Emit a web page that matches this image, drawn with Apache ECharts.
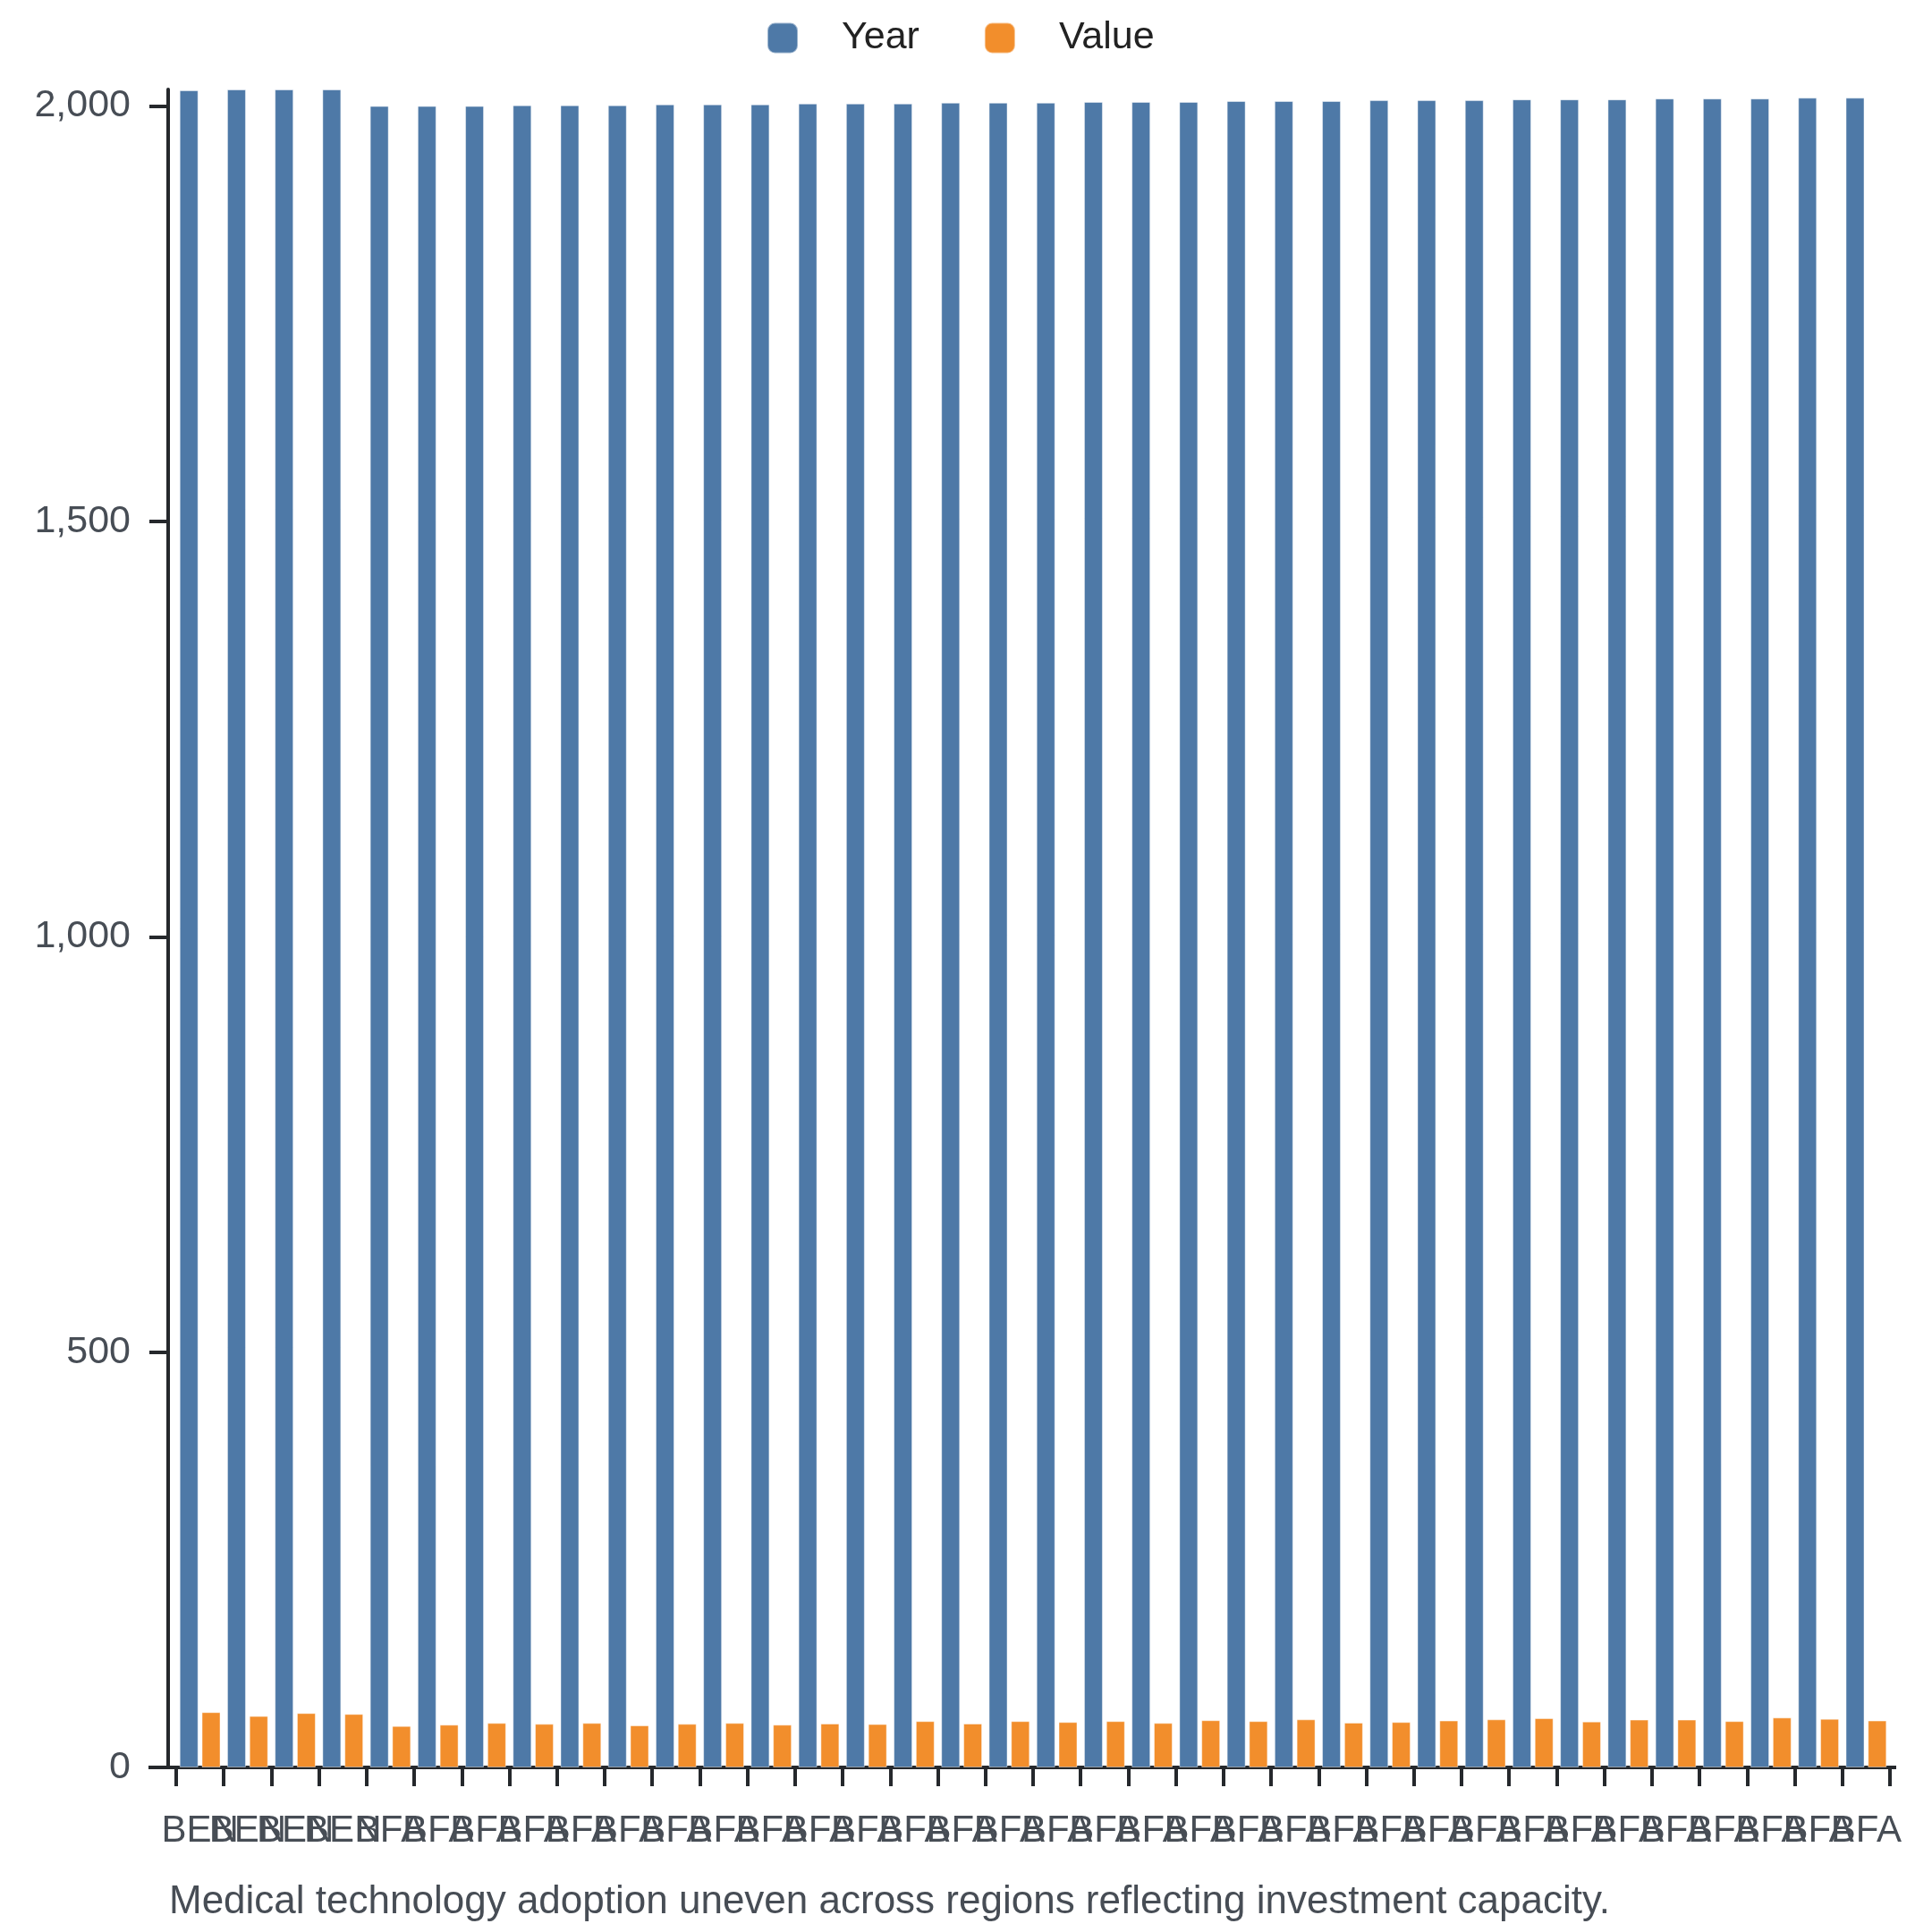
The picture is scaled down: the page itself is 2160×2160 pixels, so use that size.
<!DOCTYPE html>
<html>
<head>
<meta charset="utf-8">
<title>Year / Value by country</title>
<script src="https://cdn.jsdelivr.net/npm/echarts@6/dist/echarts.min.js"></script>
<style>
	html, body { margin: 0; padding: 0; background: #fff; }
	#main { width: 2160px; height: 2160px; }
</style>
</head>
<body>
<div id="main"></div>
<script>
	// data
	var countries = ['BEN', 'BEN', 'BEN', 'BEN',
		'BFA', 'BFA', 'BFA', 'BFA', 'BFA', 'BFA', 'BFA', 'BFA', 'BFA', 'BFA', 'BFA', 'BFA',
		'BFA', 'BFA', 'BFA', 'BFA', 'BFA', 'BFA', 'BFA', 'BFA', 'BFA', 'BFA', 'BFA', 'BFA',
		'BFA', 'BFA', 'BFA', 'BFA', 'BFA', 'BFA', 'BFA', 'BFA'];
	var years = [2019, 2020, 2020, 2020,
		2000, 2000, 2000, 2001, 2001, 2001, 2002, 2002, 2002, 2003, 2003, 2003,
		2004, 2004, 2004, 2005, 2005, 2005, 2006, 2006, 2006, 2007, 2007, 2007,
		2008, 2008, 2008, 2009, 2009, 2009, 2010, 2010];
	var values = [66.5, 61.8, 65.4, 64.3,
		49.9, 51.4, 53.5, 52.4, 53.5, 50.6, 52.4, 53.5, 51.4, 52.8, 52.1, 55.7,
		52.8, 55.7, 54.6, 55.7, 53.5, 56.8, 55.7, 57.8, 53.9, 54.6, 56.4, 57.8,
		59.3, 55.3, 57.5, 57.5, 55.7, 60.0, 58.5, 56.4];
	var yTicks = [0, 500, 1000, 1500, 2000];
	var caption = 'Medical technology adoption uneven across regions reflecting investment capacity.';

	var font = '"Liberation Sans", Arial, Helvetica, sans-serif';
	var axisColor = '#25282c';
	var labelColor = '#474d55';

	var myChart = echarts.init(document.getElementById('main'));

	var option = {
		animation: false,
		textStyle: { fontFamily: font },
		title: {
			text: caption,
			left: 189,
			top: 2105,
			padding: 0,
			textStyle: { fontSize: 44, fontWeight: 'normal', color: labelColor, fontFamily: font }
		},
		legend: {
			data: ['Year', 'Value'],
			left: 857,
			top: 21,
			padding: 0,
			itemWidth: 34,
			itemHeight: 34,
			itemGap: 72,
			icon: 'roundRect',
			textStyle: { fontSize: 43, color: '#222', fontFamily: font, padding: [0, 0, 0, 44] }
		},
		grid: { left: 197, right: 47, top: 100, bottom: 184 },
		xAxis: {
			type: 'category',
			data: countries,
			axisLine: { lineStyle: { color: axisColor, width: 4 } },
			axisTick: { show: true, length: 21, interval: 0, lineStyle: { color: axisColor, width: 4 } },
			axisLabel: { interval: 0, fontSize: 42, color: labelColor, margin: 50, fontFamily: font }
		},
		yAxis: {
			type: 'value',
			min: 0,
			max: 2020,
			offset: 9,
			splitLine: { show: false },
			axisLine: { show: true, lineStyle: { color: axisColor, width: 4 } },
			axisTick: { show: true, length: 21, customValues: yTicks, lineStyle: { color: axisColor, width: 4 } },
			axisLabel: {
				fontSize: 43, color: labelColor, margin: 42, fontFamily: font,
				customValues: yTicks,
				formatter: function(v) { return echarts.format.addCommas(v); }
			}
		},
		series: [{
			name: 'Year',
			type: 'bar',
			data: years,
			barWidth: 21,
			barGap: '18%',
			itemStyle: { color: '#4e79a7', borderColor: 'rgba(255,255,255,0.45)', borderWidth: 1 }
		}, {
			name: 'Value',
			type: 'bar',
			data: values,
			barWidth: 21,
			itemStyle: { color: '#f28e2c', borderColor: 'rgba(255,255,255,0.45)', borderWidth: 1 }
		}],
		// the x axis line runs a little past the plot on both sides in the reference
		graphic: [{
			type: 'line',
			shape: { x1: 166, y1: 1976, x2: 197, y2: 1976 },
			style: { stroke: axisColor, lineWidth: 4 }
		}, {
			type: 'line',
			shape: { x1: 2113, y1: 1976, x2: 2120, y2: 1976 },
			style: { stroke: axisColor, lineWidth: 4 }
		}]
	};

	myChart.setOption(option);
</script>
</body>
</html>
